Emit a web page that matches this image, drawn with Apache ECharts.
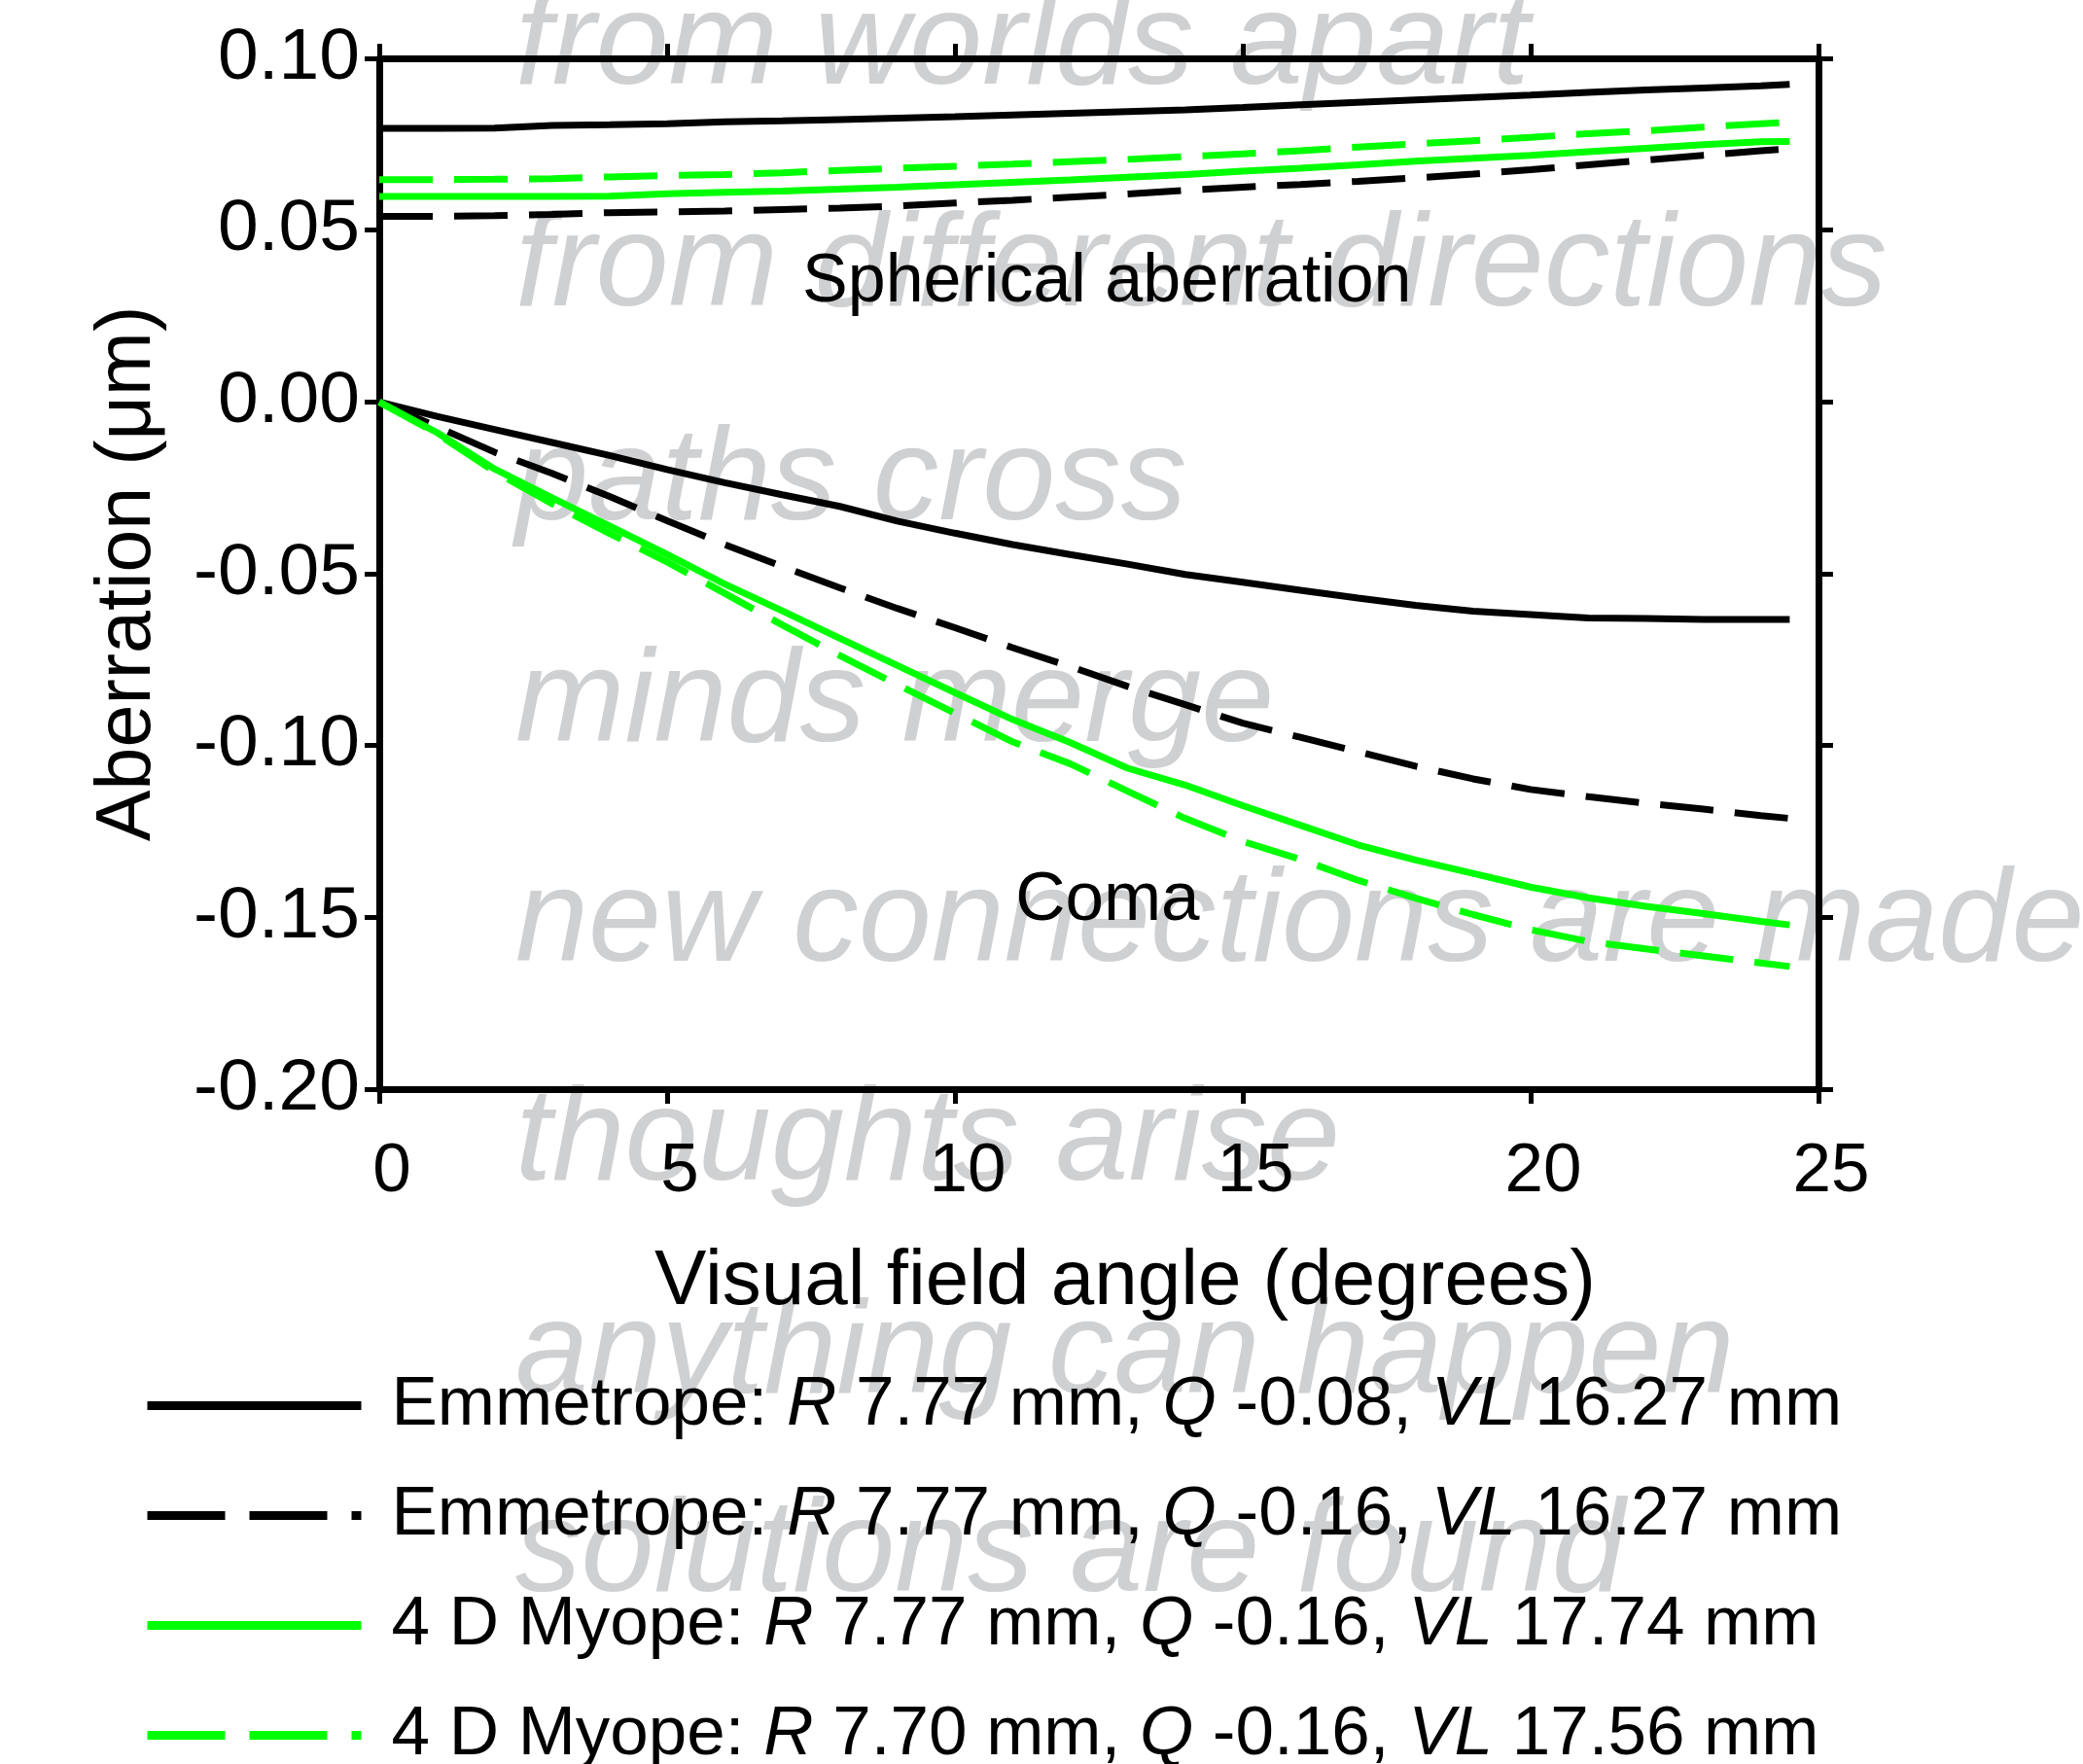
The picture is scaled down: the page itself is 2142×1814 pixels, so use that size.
<!DOCTYPE html>
<html>
<head>
<meta charset="utf-8">
<script src="https://cdn.jsdelivr.net/npm/echarts@6/dist/echarts.min.js"></script>
<style>
  html, body { margin: 0; padding: 0; background: #fff; }
  #main { width: 2142px; height: 1814px; }
</style>
</head>
<body>
<div id="main"></div>
<script>
// visual field angle (degrees)
const angle = [0, 1, 2, 3, 4, 5, 6, 7, 8, 9, 10, 11, 12, 13, 14, 15, 16, 17, 18, 19, 20, 21, 22, 23, 24, 24.5]

// spherical aberration (um)
const sphEmmQ08 = [0.0796, 0.0796, 0.0797, 0.0805, 0.0807, 0.0810, 0.0815, 0.0818, 0.0822, 0.0826, 0.0830, 0.0835, 0.0840, 0.0845, 0.0850, 0.0857, 0.0865, 0.0872, 0.0879, 0.0886, 0.0893, 0.0901, 0.0908, 0.0914, 0.0920, 0.0924]
const sphEmmQ16 = [0.0540, 0.0540, 0.0542, 0.0546, 0.0551, 0.0553, 0.0556, 0.0560, 0.0564, 0.0570, 0.0579, 0.0587, 0.0596, 0.0605, 0.0616, 0.0625, 0.0633, 0.0642, 0.0652, 0.0663, 0.0676, 0.0690, 0.0704, 0.0718, 0.0731, 0.0737]
const sphMyoR777 = [0.0598, 0.0598, 0.0598, 0.0598, 0.0599, 0.0606, 0.0610, 0.0614, 0.0619, 0.0625, 0.0632, 0.0639, 0.0646, 0.0654, 0.0662, 0.0672, 0.0680, 0.0690, 0.0701, 0.0709, 0.0718, 0.0728, 0.0738, 0.0749, 0.0757, 0.0758]
const sphMyoR770 = [0.0647, 0.0647, 0.0648, 0.0650, 0.0655, 0.0659, 0.0662, 0.0667, 0.0674, 0.0680, 0.0686, 0.0692, 0.0699, 0.0706, 0.0714, 0.0722, 0.0731, 0.0742, 0.0751, 0.0760, 0.0770, 0.0781, 0.0789, 0.0800, 0.0810, 0.0814]

// coma (um)
const comaEmmQ08 = [0, -0.0042, -0.0080, -0.0118, -0.0156, -0.0197, -0.0235, -0.0270, -0.0304, -0.0347, -0.0382, -0.0415, -0.0444, -0.0472, -0.0502, -0.0525, -0.0548, -0.0571, -0.0592, -0.0609, -0.0619, -0.0629, -0.0630, -0.0633, -0.0633, -0.0633]
const comaEmmQ16 = [0, -0.0072, -0.0146, -0.0208, -0.0275, -0.0346, -0.0415, -0.0479, -0.0541, -0.0601, -0.0657, -0.0715, -0.0770, -0.0828, -0.0881, -0.0935, -0.0976, -0.1018, -0.1060, -0.1097, -0.1128, -0.1149, -0.1168, -0.1185, -0.1204, -0.1212]
const comaMyoR777 = [0, -0.0089, -0.0195, -0.0279, -0.0361, -0.0444, -0.0530, -0.0608, -0.0688, -0.0767, -0.0846, -0.0924, -0.0991, -0.1066, -0.1115, -0.1175, -0.1232, -0.1289, -0.1333, -0.1372, -0.1412, -0.1443, -0.1468, -0.1489, -0.1512, -0.1522]
const comaMyoR770 = [0, -0.0092, -0.0202, -0.0296, -0.0383, -0.0466, -0.0557, -0.0649, -0.0738, -0.0823, -0.0906, -0.0989, -0.1053, -0.1133, -0.1212, -0.1279, -0.1331, -0.1392, -0.1444, -0.1492, -0.1536, -0.1570, -0.1592, -0.1612, -0.1633, -0.1643]

const legendNames = [
  'Emmetrope: R 7.77 mm, Q -0.08, VL 16.27 mm',
  'Emmetrope: R 7.77 mm, Q -0.16, VL 16.27 mm',
  '4 D Myope: R 7.77 mm, Q -0.16, VL 17.74 mm',
  '4 D Myope: R 7.70 mm, Q -0.16, VL 17.56 mm'
]

// background phrases
const phrases = ['from worlds apart', 'from different directions', 'paths cross', 'minds merge',
  'new connections are made', 'thoughts arise', 'anything can happen', 'solutions are found']
const phraseBaselines = [95, 323, 543, 771, 997, 1222, 1441, 1645]

const FONT = '"Liberation Sans", Arial, Helvetica, sans-serif'
const GREEN = '#00ff00'
const DASH = [55, 22]

function pairs(ys) {
  return ys.map((v, i) => [angle[i], v])
}

function lineSeries(name, ys, color, dashed) {
  return {
    name: name,
    type: 'line',
    data: pairs(ys),
    symbol: 'none',
    showSymbol: false,
    lineStyle: { color: color, width: 7, type: dashed ? DASH : 'solid' },
    itemStyle: { color: color },
    z: 3
  }
}

const styles = [
  { color: '#000', dashed: false },
  { color: '#000', dashed: true },
  { color: GREEN, dashed: false },
  { color: GREEN, dashed: true }
]
const sphData = [sphEmmQ08, sphEmmQ16, sphMyoR777, sphMyoR770]
const comaData = [comaEmmQ08, comaEmmQ16, comaMyoR777, comaMyoR770]

var series = []
for (let i = 0; i < 4; i++) {
  series.push(lineSeries(legendNames[i], sphData[i], styles[i].color, styles[i].dashed))
  series.push(lineSeries(legendNames[i], comaData[i], styles[i].color, styles[i].dashed))
}

const axisLine = { show: true, onZero: false, lineStyle: { color: '#000', width: 7 } }
const axisTick = { show: true, inside: false, length: 15, lineStyle: { color: '#000', width: 5 } }

var chart = echarts.init(document.getElementById('main'))

var option = {
  animation: false,
  backgroundColor: '#fff',
  grid: { left: 390, right: 272, top: 60, bottom: 694 },
  legend: {
    orient: 'vertical',
    left: 142,
    top: 1405,
    height: 520,
    itemWidth: 220,
    itemHeight: 20,
    itemGap: 42,
    selectedMode: false,
    itemStyle: { opacity: 0 },
    data: legendNames.map((n, i) => ({
      name: n,
      itemStyle: { opacity: 0 },
      lineStyle: { color: styles[i].color, width: 9, type: styles[i].dashed ? [80, 25] : 'solid' }
    })),
    formatter: function (name) {
      return name.replace(/\b(R|Q|VL)\b/g, '{i|$1}')
    },
    textStyle: {
      fontFamily: FONT,
      fontSize: 71,
      color: '#000',
      padding: [0, 0, 0, 26],
      rich: {
        i: { fontFamily: FONT, fontSize: 71, fontStyle: 'italic', color: '#000' }
      }
    }
  },
  xAxis: [
    {
      type: 'value',
      position: 'bottom',
      min: 0,
      max: 25,
      interval: 5,
      name: 'Visual field angle (degrees)',
      nameLocation: 'middle',
      nameGap: 159,
      nameTextStyle: { fontFamily: FONT, fontSize: 80, color: '#000', padding: [0, 0, 0, 54] },
      axisLine: axisLine,
      axisTick: axisTick,
      splitLine: { show: false },
      axisLabel: { fontFamily: FONT, fontSize: 71, color: '#000', margin: 50, padding: [0, 0, 0, 26] }
    },
    {
      type: 'value',
      position: 'top',
      min: 0,
      max: 25,
      interval: 5,
      axisLine: axisLine,
      axisTick: axisTick,
      splitLine: { show: false },
      axisLabel: { show: false }
    }
  ],
  yAxis: [
    {
      type: 'value',
      position: 'left',
      min: -0.2,
      max: 0.1,
      interval: 0.05,
      name: 'Aberration (μm)',
      nameLocation: 'middle',
      nameGap: 218,
      nameTextStyle: { fontFamily: FONT, fontSize: 79, color: '#000' },
      axisLine: axisLine,
      axisTick: axisTick,
      splitLine: { show: false },
      axisLabel: {
        fontFamily: FONT,
        fontSize: 75,
        color: '#000',
        margin: 20,
        formatter: function (v) { return v.toFixed(2) }
      }
    },
    {
      type: 'value',
      position: 'right',
      min: -0.2,
      max: 0.1,
      interval: 0.05,
      axisLine: axisLine,
      axisTick: axisTick,
      splitLine: { show: false },
      axisLabel: { show: false }
    }
  ],
  series: series
}

chart.setOption(option)

// labels placed in data coordinates, faint phrases behind the plot
var sphPos = chart.convertToPixel({ xAxisIndex: 0, yAxisIndex: 0 }, [12.64, 0.0348])
var comaPos = chart.convertToPixel({ xAxisIndex: 0, yAxisIndex: 0 }, [12.65, -0.1452])

var graphics = phrases.map((t, i) => ({
  type: 'text',
  silent: true,
  z: -10,
  x: 530,
  y: phraseBaselines[i] - 47,
  style: {
    text: t,
    fontFamily: FONT,
    fontSize: 135,
    fontStyle: 'italic',
    fill: '#cfd0d2',
    align: 'left',
    verticalAlign: 'middle'
  }
}))
graphics.push({
  type: 'text', z: 100, x: sphPos[0], y: sphPos[1],
  style: { text: 'Spherical aberration', fontFamily: FONT, fontSize: 70, fill: '#000', align: 'center', verticalAlign: 'middle' }
})
graphics.push({
  type: 'text', z: 100, x: comaPos[0], y: comaPos[1],
  style: { text: 'Coma', fontFamily: FONT, fontSize: 71, fill: '#000', align: 'center', verticalAlign: 'middle' }
})

chart.setOption({ graphic: graphics })
</script>
</body>
</html>
